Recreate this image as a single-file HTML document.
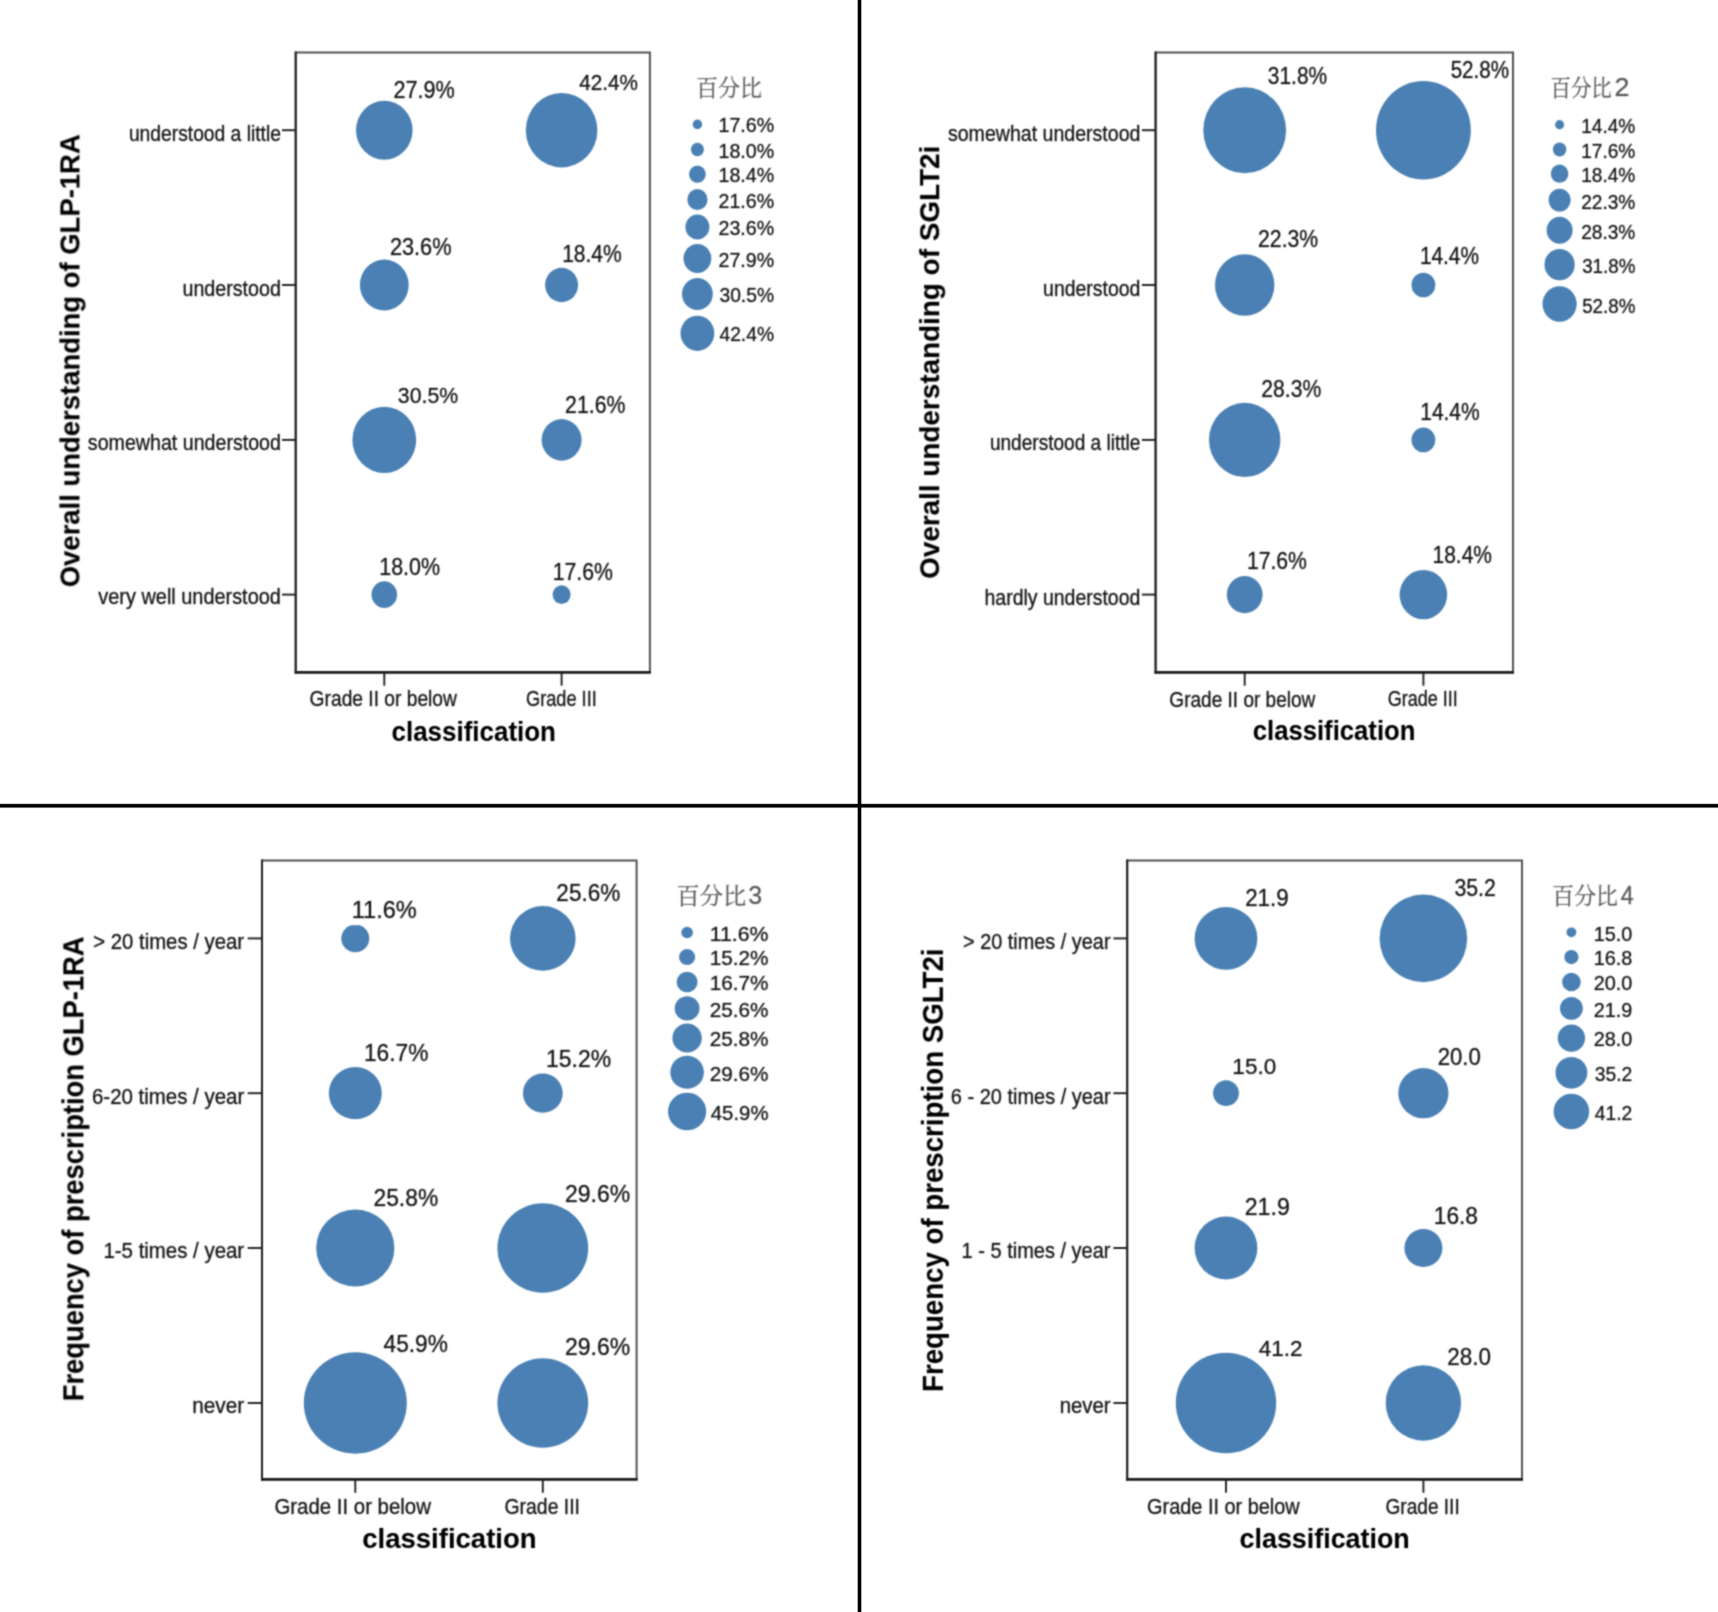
<!DOCTYPE html>
<html lang="en"><head><meta charset="utf-8"><title>Bubble charts</title>
<style>
html,body{margin:0;padding:0;background:#fff;}
body{width:1718px;height:1612px;overflow:hidden;}
svg{display:block;}
text{font-family:"Liberation Sans","Noto Sans CJK SC",sans-serif;fill:#141414;stroke:#141414;stroke-width:1px;stroke-opacity:0.3;}
.ax{font-size:20.4px;}
.dl{font-size:23.0px;}
.ti{font-size:27.3px;font-weight:bold;fill:#000;stroke:#000;stroke-width:0.8px;stroke-opacity:0.12;}
.lt{font-family:"Liberation Sans","Noto Serif CJK SC",serif;font-size:22.4px;fill:#5a5a5a;stroke:#5a5a5a;stroke-width:0.9px;stroke-opacity:0.3;}
.ld{font-size:25.0px;}
.b{fill:#4a80b3;}
.fr{fill:none;stroke:#4a4a4a;stroke-width:1.9;}
.axl{stroke:#1e1e1e;stroke-width:2.0;fill:none;}
.axb{stroke:#1e1e1e;stroke-width:2.8;fill:none;}
.tk{stroke:#1e1e1e;stroke-width:1.9;}
</style></head><body>
<svg width="1718" height="1612" viewBox="0 0 1718 1612">
<rect x="0" y="0" width="1718" height="1612" fill="#fff"/>
<defs><filter id="soft" filterUnits="userSpaceOnUse" x="0" y="0" width="1718" height="1612" color-interpolation-filters="sRGB"><feConvolveMatrix order="3" kernelMatrix="0.0484 0.1232 0.0484 0.1232 0.3136 0.1232 0.0484 0.1232 0.0484" divisor="1" edgeMode="duplicate"/></filter></defs>
<g id="dividers"><rect x="857.2" y="0" width="4.6" height="1612" fill="#000" fill-opacity="0.3"/><rect x="0" y="803.4" width="1718" height="4.7" fill="#000" fill-opacity="0.3"/><rect x="857.9" y="0" width="3.2" height="1612" fill="#000"/><rect x="0" y="804.1" width="1718" height="3.3" fill="#000"/></g>
<g id="panels" filter="url(#soft)">
<g id="panel1">
<rect class="fr" x="295.7" y="52.5" width="354.2" height="619.8"/>
<path class="axl" d="M295.7 51.5V673.7"/>
<path class="axb" d="M294.7 672.3H650.9"/>
<line class="tk" x1="282" y1="130.2" x2="295.7" y2="130.2"/>
<text class="ax" transform="translate(128.91 140.5) scale(0.9441 1.08)">understood a little</text>
<line class="tk" x1="282" y1="285" x2="295.7" y2="285"/>
<text class="ax" transform="translate(182.49 295.7) scale(0.9643 1.08)">understood</text>
<line class="tk" x1="282" y1="439.9" x2="295.7" y2="439.9"/>
<text class="ax" transform="translate(87.85 450) scale(0.9621 1.08)">somewhat understood</text>
<line class="tk" x1="282" y1="594.6" x2="295.7" y2="594.6"/>
<text class="ax" transform="translate(98.35 604.4) scale(0.9761 1.08)">very well understood</text>
<line class="tk" x1="384.3" y1="672.3" x2="384.3" y2="685.7"/>
<text class="ax" transform="translate(309.61 706.3) scale(0.9423 1.08)">Grade II or below</text>
<line class="tk" x1="561.6" y1="672.3" x2="561.6" y2="685.7"/>
<text class="ax" transform="translate(526.06 706.1) scale(0.8909 1.08)">Grade III</text>
<text class="ti" transform="translate(391.5 740.5) scale(0.9514 1)">classification</text>
<text class="ti" transform="translate(79.2 587.26) rotate(-90) scale(1.0059 1.03)">Overall understanding of GLP-1RA</text>
<ellipse class="b" cx="384.3" cy="130.2" rx="28.3" ry="29.43"/>
<ellipse class="b" cx="561.6" cy="130.2" rx="35.8" ry="37.23"/>
<ellipse class="b" cx="384.3" cy="285" rx="24.4" ry="25.38"/>
<ellipse class="b" cx="561.6" cy="285" rx="16.5" ry="17.16"/>
<ellipse class="b" cx="384.3" cy="439.9" rx="31.9" ry="33.18"/>
<ellipse class="b" cx="561.6" cy="439.9" rx="20" ry="20.8"/>
<ellipse class="b" cx="384.3" cy="594.6" rx="12.8" ry="13.31"/>
<ellipse class="b" cx="561.6" cy="594.6" rx="9" ry="9.36"/>
<text class="dl" transform="translate(393.51 98) scale(0.9394 1)">27.9%</text>
<text class="dl" transform="translate(579.25 90.1) scale(0.9017 1)">42.4%</text>
<text class="dl" transform="translate(389.9 254.5) scale(0.9457 1)">23.6%</text>
<text class="dl" transform="translate(562.14 262.3) scale(0.9143 1)">18.4%</text>
<text class="dl" transform="translate(397.85 403) scale(0.9264 1)">30.5%</text>
<text class="dl" transform="translate(565.12 412.5) scale(0.9253 1)">21.6%</text>
<text class="dl" transform="translate(379.22 575.2) scale(0.9347 1)">18.0%</text>
<text class="dl" transform="translate(552.73 579.6) scale(0.9237 1)">17.6%</text>
<text class="lt" transform="translate(695.97 95.6) scale(0.9820 1)">百分比</text>
<ellipse class="b" cx="697.4" cy="124.4" rx="4.7" ry="4.89"/>
<text class="ax" transform="translate(718.49 132.4) scale(0.9614 1)">17.6%</text>
<ellipse class="b" cx="697.4" cy="149.5" rx="6.5" ry="6.76"/>
<text class="ax" transform="translate(718.49 157.5) scale(0.9614 1)">18.0%</text>
<ellipse class="b" cx="697.4" cy="174.2" rx="8.3" ry="8.63"/>
<text class="ax" transform="translate(718.49 182.2) scale(0.9614 1)">18.4%</text>
<ellipse class="b" cx="697.4" cy="199.5" rx="10.1" ry="10.5"/>
<text class="ax" transform="translate(718.49 207.5) scale(0.9614 1)">21.6%</text>
<ellipse class="b" cx="697.4" cy="227" rx="12" ry="12.48"/>
<text class="ax" transform="translate(718.49 235) scale(0.9614 1)">23.6%</text>
<ellipse class="b" cx="697.4" cy="258.5" rx="13.9" ry="14.46"/>
<text class="ax" transform="translate(718.49 266.5) scale(0.9614 1)">27.9%</text>
<ellipse class="b" cx="697.4" cy="294" rx="15.4" ry="16.02"/>
<text class="ax" transform="translate(719.45 302) scale(0.9448 1)">30.5%</text>
<ellipse class="b" cx="697.4" cy="333.3" rx="16.9" ry="17.58"/>
<text class="ax" transform="translate(719.45 341.3) scale(0.9448 1)">42.4%</text>
</g>
<g id="panel2">
<rect class="fr" x="1155.6" y="52.5" width="357.4" height="619.8"/>
<path class="axl" d="M1155.6 51.5V673.7"/>
<path class="axb" d="M1154.6 672.3H1514"/>
<line class="tk" x1="1141.9" y1="130.2" x2="1155.6" y2="130.2"/>
<text class="ax" transform="translate(947.95 140.5) scale(0.9591 1.08)">somewhat understood</text>
<line class="tk" x1="1141.9" y1="285" x2="1155.6" y2="285"/>
<text class="ax" transform="translate(1043.1 295.9) scale(0.9534 1.08)">understood</text>
<line class="tk" x1="1141.9" y1="439.9" x2="1155.6" y2="439.9"/>
<text class="ax" transform="translate(989.92 450.2) scale(0.9347 1.08)">understood a little</text>
<line class="tk" x1="1141.9" y1="594.6" x2="1155.6" y2="594.6"/>
<text class="ax" transform="translate(984.5 604.6) scale(0.9549 1.08)">hardly understood</text>
<line class="tk" x1="1244.7" y1="672.3" x2="1244.7" y2="685.7"/>
<text class="ax" transform="translate(1169.32 706.5) scale(0.9340 1.08)">Grade II or below</text>
<line class="tk" x1="1423.4" y1="672.3" x2="1423.4" y2="685.7"/>
<text class="ax" transform="translate(1387.67 706.3) scale(0.8843 1.08)">Grade III</text>
<text class="ti" transform="translate(1252.71 740.3) scale(0.9408 1)">classification</text>
<text class="ti" transform="translate(939.4 578.87) rotate(-90) scale(1.0214 1.01)">Overall understanding of SGLT2i</text>
<ellipse class="b" cx="1244.7" cy="130.2" rx="41.4" ry="42.97"/>
<ellipse class="b" cx="1423.4" cy="130.2" rx="47.4" ry="49.2"/>
<ellipse class="b" cx="1244.7" cy="285" rx="29.7" ry="30.83"/>
<ellipse class="b" cx="1423.4" cy="285" rx="11.9" ry="12.35"/>
<ellipse class="b" cx="1244.7" cy="439.9" rx="35.7" ry="37.06"/>
<ellipse class="b" cx="1423.4" cy="439.9" rx="11.9" ry="12.35"/>
<ellipse class="b" cx="1244.7" cy="594.6" rx="17.9" ry="18.58"/>
<ellipse class="b" cx="1423.4" cy="594.6" rx="23.8" ry="24.7"/>
<text class="dl" transform="translate(1267.85 84.2) scale(0.9094 1)">31.8%</text>
<text class="dl" transform="translate(1450.65 78.4) scale(0.8971 1)">52.8%</text>
<text class="dl" transform="translate(1258.03 247.2) scale(0.9237 1)">22.3%</text>
<text class="dl" transform="translate(1419.95 264) scale(0.9049 1)">14.4%</text>
<text class="dl" transform="translate(1261.33 397.3) scale(0.9190 1)">28.3%</text>
<text class="dl" transform="translate(1420.24 419.5) scale(0.9112 1)">14.4%</text>
<text class="dl" transform="translate(1246.93 568.8) scale(0.9206 1)">17.6%</text>
<text class="dl" transform="translate(1432.54 562.8) scale(0.9112 1)">18.4%</text>
<text class="lt" transform="translate(1550.54 95.6) scale(0.9121 1)">百分比<tspan class="ld" x="70.21" textLength="16.39" lengthAdjust="spacingAndGlyphs">2</tspan></text>
<ellipse class="b" cx="1559.6" cy="124.7" rx="4.5" ry="4.67"/>
<text class="ax" transform="translate(1581.21 133.2) scale(0.9367 1)">14.4%</text>
<ellipse class="b" cx="1559.6" cy="149.5" rx="6.7" ry="6.95"/>
<text class="ax" transform="translate(1581.21 158) scale(0.9367 1)">17.6%</text>
<ellipse class="b" cx="1559.6" cy="173.7" rx="8.8" ry="9.13"/>
<text class="ax" transform="translate(1581.21 182.2) scale(0.9367 1)">18.4%</text>
<ellipse class="b" cx="1559.6" cy="200.1" rx="11" ry="11.42"/>
<text class="ax" transform="translate(1581.21 208.6) scale(0.9367 1)">22.3%</text>
<ellipse class="b" cx="1559.6" cy="230.3" rx="13" ry="13.49"/>
<text class="ax" transform="translate(1581.21 238.8) scale(0.9367 1)">28.3%</text>
<ellipse class="b" cx="1559.6" cy="264.7" rx="15.1" ry="15.67"/>
<text class="ax" transform="translate(1582.15 273.2) scale(0.9205 1)">31.8%</text>
<ellipse class="b" cx="1559.6" cy="304" rx="17.1" ry="17.75"/>
<text class="ax" transform="translate(1582.15 312.5) scale(0.9205 1)">52.8%</text>
</g>
<g id="panel3">
<rect class="fr" x="262" y="860.5" width="374.6" height="618.9"/>
<path class="axl" d="M262 859.5V1480.8"/>
<path class="axb" d="M261 1479.4H637.6"/>
<line class="tk" x1="247.7" y1="938.4" x2="262" y2="938.4"/>
<text class="ax" transform="translate(93.25 948.9) scale(0.9973 1.08)">&gt; 20 times / year</text>
<line class="tk" x1="247.7" y1="1093.2" x2="262" y2="1093.2"/>
<text class="ax" transform="translate(91.95 1103.7) scale(1.0022 1.08)">6-20 times / year</text>
<line class="tk" x1="247.7" y1="1248" x2="262" y2="1248"/>
<text class="ax" transform="translate(103.45 1258) scale(1.0013 1.08)">1-5 times / year</text>
<line class="tk" x1="247.7" y1="1403" x2="262" y2="1403"/>
<text class="ax" transform="translate(192.23 1413) scale(1.0176 1.08)">never</text>
<line class="tk" x1="355.3" y1="1479.4" x2="355.3" y2="1492.8"/>
<text class="ax" transform="translate(274.45 1513.5) scale(1.0008 1.08)">Grade II or below</text>
<line class="tk" x1="542.8" y1="1479.4" x2="542.8" y2="1492.8"/>
<text class="ax" transform="translate(504.5 1513.5) scale(0.9522 1.08)">Grade III</text>
<text class="ti" transform="translate(362.24 1548.2) scale(1.0084 1)">classification</text>
<text class="ti" transform="translate(83.2 1401.25) rotate(-90) scale(1.0017 1.07)">Frequency of prescription GLP-1RA</text>
<ellipse class="b" cx="355.3" cy="938.4" rx="14" ry="13.79"/>
<ellipse class="b" cx="542.8" cy="938.4" rx="32.8" ry="32.31"/>
<ellipse class="b" cx="355.3" cy="1093.2" rx="26.5" ry="26.1"/>
<ellipse class="b" cx="542.8" cy="1093.2" rx="19.9" ry="19.6"/>
<ellipse class="b" cx="355.3" cy="1248" rx="39.1" ry="38.51"/>
<ellipse class="b" cx="542.8" cy="1248" rx="45.4" ry="44.72"/>
<ellipse class="b" cx="355.3" cy="1403" rx="51.5" ry="50.73"/>
<ellipse class="b" cx="542.8" cy="1403" rx="45.4" ry="44.72"/>
<rect x="349.5" y="900.2" width="69" height="25" fill="#fff"/>
<text class="dl" transform="translate(351.73 918.2) scale(1.0232 1)">11.6%</text>
<text class="dl" transform="translate(556.37 901.1) scale(0.9802 1)">25.6%</text>
<text class="dl" transform="translate(363.96 1061.2) scale(0.9880 1)">16.7%</text>
<text class="dl" transform="translate(546.05 1066.9) scale(0.9974 1)">15.2%</text>
<text class="dl" transform="translate(373.46 1205.6) scale(0.9927 1)">25.8%</text>
<text class="dl" transform="translate(564.95 1201.7) scale(1.0006 1)">29.6%</text>
<text class="dl" transform="translate(383.55 1352.3) scale(0.9866 1)">45.9%</text>
<text class="dl" transform="translate(564.95 1355.4) scale(1.0006 1)">29.6%</text>
<text class="lt" transform="translate(676.61 903.6) scale(1.0368 1)">百分比<tspan class="ld" x="69" textLength="13.41" lengthAdjust="spacingAndGlyphs">3</tspan></text>
<ellipse class="b" cx="687.1" cy="932.5" rx="5.8" ry="5.71"/>
<text class="ax" transform="translate(709.71 940.7) scale(1.0440 1)">11.6%</text>
<ellipse class="b" cx="687.1" cy="957.1" rx="8.1" ry="7.98"/>
<text class="ax" transform="translate(709.73 965.3) scale(1.0161 1)">15.2%</text>
<ellipse class="b" cx="687.1" cy="982" rx="10.5" ry="10.34"/>
<text class="ax" transform="translate(709.73 990.2) scale(1.0161 1)">16.7%</text>
<ellipse class="b" cx="687.1" cy="1008.4" rx="12.4" ry="12.21"/>
<text class="ax" transform="translate(709.73 1016.6) scale(1.0161 1)">25.6%</text>
<ellipse class="b" cx="687.1" cy="1038.1" rx="14.7" ry="14.48"/>
<text class="ax" transform="translate(709.73 1046.3) scale(1.0161 1)">25.8%</text>
<ellipse class="b" cx="687.1" cy="1072.3" rx="16.8" ry="16.55"/>
<text class="ax" transform="translate(709.73 1080.5) scale(1.0161 1)">29.6%</text>
<ellipse class="b" cx="687.1" cy="1111.5" rx="19.1" ry="18.81"/>
<text class="ax" transform="translate(710.75 1119.7) scale(0.9985 1)">45.9%</text>
</g>
<g id="panel4">
<rect class="fr" x="1127.2" y="860.5" width="394.8" height="618.9"/>
<path class="axl" d="M1127.2 859.5V1480.8"/>
<path class="axb" d="M1126.2 1479.4H1523"/>
<line class="tk" x1="1113.4" y1="938.4" x2="1127.2" y2="938.4"/>
<text class="ax" transform="translate(963.08 948.9) scale(0.9747 1.08)">&gt; 20 times / year</text>
<line class="tk" x1="1113.4" y1="1093.2" x2="1127.2" y2="1093.2"/>
<text class="ax" transform="translate(950.87 1103.7) scale(0.9785 1.08)">6 - 20 times / year</text>
<line class="tk" x1="1113.4" y1="1248" x2="1127.2" y2="1248"/>
<text class="ax" transform="translate(961.57 1258) scale(0.9811 1.08)">1 - 5 times / year</text>
<line class="tk" x1="1113.4" y1="1403" x2="1127.2" y2="1403"/>
<text class="ax" transform="translate(1059.65 1413) scale(0.9977 1.08)">never</text>
<line class="tk" x1="1226" y1="1479.4" x2="1226" y2="1492.8"/>
<text class="ax" transform="translate(1147.07 1513.6) scale(0.9757 1.08)">Grade II or below</text>
<line class="tk" x1="1423.4" y1="1479.4" x2="1423.4" y2="1492.8"/>
<text class="ax" transform="translate(1385.51 1513.6) scale(0.9352 1.08)">Grade III</text>
<text class="ti" transform="translate(1239.57 1548.3) scale(0.9843 1)">classification</text>
<text class="ti" transform="translate(942.7 1391.96) rotate(-90) scale(1.0130 1.07)">Frequency of prescription SGLT2i</text>
<ellipse class="b" cx="1226" cy="938.4" rx="31.4" ry="31.4"/>
<ellipse class="b" cx="1423.4" cy="938.4" rx="43.8" ry="43.8"/>
<ellipse class="b" cx="1226" cy="1093.2" rx="12.9" ry="12.9"/>
<ellipse class="b" cx="1423.4" cy="1093.2" rx="25.1" ry="25.1"/>
<ellipse class="b" cx="1226" cy="1248" rx="31.4" ry="31.4"/>
<ellipse class="b" cx="1423.4" cy="1248" rx="19" ry="19"/>
<ellipse class="b" cx="1226" cy="1403" rx="50.2" ry="50.2"/>
<ellipse class="b" cx="1423.4" cy="1403" rx="37.7" ry="37.7"/>
<text class="dl" transform="translate(1245.18 905.6) scale(0.9727 1)">21.9</text>
<text class="dl" transform="translate(1454.45 896.3) scale(0.9256 1)">35.2</text>
<text class="dl" transform="translate(1232.37 1074) scale(0.9797 1)">15.0</text>
<text class="dl" transform="translate(1437.68 1064.8) scale(0.9657 1)">20.0</text>
<text class="dl" transform="translate(1244.74 1215.2) scale(1.0076 1)">21.9</text>
<text class="dl" transform="translate(1433.76 1223.8) scale(0.9890 1)">16.8</text>
<text class="dl" transform="translate(1258.75 1356) scale(0.9779 1)">41.2</text>
<text class="dl" transform="translate(1447.27 1365.4) scale(0.9774 1)">28.0</text>
<text class="lt" transform="translate(1552.37 903.6) scale(0.9760 1)">百分比<tspan class="ld" x="70.06" textLength="13.23" lengthAdjust="spacingAndGlyphs">4</tspan></text>
<ellipse class="b" cx="1571.4" cy="932.3" rx="4.9" ry="4.9"/>
<text class="ax" transform="translate(1593.68 940.5) scale(0.9727 1)">15.0</text>
<ellipse class="b" cx="1571.4" cy="957.1" rx="7.1" ry="7.1"/>
<text class="ax" transform="translate(1593.68 965.3) scale(0.9727 1)">16.8</text>
<ellipse class="b" cx="1571.4" cy="982" rx="9.3" ry="9.3"/>
<text class="ax" transform="translate(1593.68 990.2) scale(0.9727 1)">20.0</text>
<ellipse class="b" cx="1571.4" cy="1008.4" rx="11.4" ry="11.4"/>
<text class="ax" transform="translate(1593.68 1016.6) scale(0.9727 1)">21.9</text>
<ellipse class="b" cx="1571.4" cy="1038.1" rx="13.7" ry="13.7"/>
<text class="ax" transform="translate(1593.68 1046.3) scale(0.9727 1)">28.0</text>
<ellipse class="b" cx="1571.4" cy="1072.8" rx="15.9" ry="15.9"/>
<text class="ax" transform="translate(1594.65 1081) scale(0.9480 1)">35.2</text>
<ellipse class="b" cx="1571.4" cy="1111.5" rx="17.8" ry="17.8"/>
<text class="ax" transform="translate(1594.65 1119.7) scale(0.9480 1)">41.2</text>
</g>
</g>
</svg></body></html>
